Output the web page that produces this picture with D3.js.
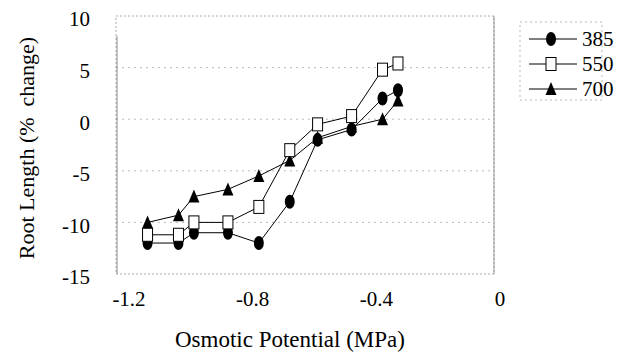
<!DOCTYPE html>
<html>
<head>
<meta charset="utf-8">
<script src="https://cdn.jsdelivr.net/npm/d3@7"></script>
<style>
  body { margin: 0; background: #fff; }
  svg text { font-family: "Liberation Serif", "Times New Roman", Tinos, "DejaVu Serif", serif; fill: #000; }
</style>
</head>
<body>
<svg width="629" height="353"></svg>
<script>
// data
const potentials = [-1.14, -1.04, -0.99, -0.88, -0.78, -0.68, -0.59, -0.48, -0.38, -0.33];
const co2_385 = [-12, -12, -11, -11, -12, -8, -2, -1, 2, 2.8];
const co2_550 = [-11.2, -11.2, -10, -10, -8.5, -3, -0.5, 0.3, 4.8, 5.4];
const co2_700 = [-10, -9.3, -7.5, -6.8, -5.5, -4, -1.8, -0.7, 0, 1.8];
const xTicks = [-1.2, -0.8, -0.4, 0];
const yTicks = [10, 5, 0, -5, -10, -15];
const seriesNames = ['385', '550', '700'];

const svg = d3.select("svg");

// frame of the plot area
const frame = { left: 116, right: 494, top: 16, bottom: 274 };

const xScale = d3.scaleLinear().domain([-1.2, 0]).range([129, 500]);
const yScale = d3.scaleLinear().domain([-15, 10]).range([frame.bottom, frame.top]);

// gridlines
svg.append('g')
  .selectAll('line')
  .data(yTicks.filter(v => v > -15 && v < 10))
  .join('line')
    .attr('x1', frame.left)
    .attr('x2', frame.right)
    .attr('y1', d => yScale(d))
    .attr('y2', d => yScale(d))
    .attr('stroke', '#bbb')
    .attr('stroke-dasharray', '2,4');

// frame
svg.append('rect')
  .attr('x', frame.left)
  .attr('y', frame.top)
  .attr('width', frame.right - frame.left)
  .attr('height', frame.bottom - frame.top)
  .attr('fill', 'none')
  .attr('stroke', '#aaa')
  .attr('stroke-dasharray', '2,2');

svg.append('line')
  .attr('x1', frame.left + 1).attr('x2', frame.left + 1)
  .attr('y1', frame.top + 20).attr('y2', frame.bottom)
  .attr('stroke', '#888');

svg.append('line')
  .attr('x1', frame.right).attr('x2', frame.right)
  .attr('y1', frame.top).attr('y2', frame.bottom)
  .attr('stroke', '#999');

// y tick labels
svg.append('g')
  .selectAll('text')
  .data(yTicks)
  .join('text')
    .attr('x', 90)
    .attr('y', d => yScale(d) + 3)
    .attr('dy', '0.35em')
    .attr('text-anchor', 'end')
    .attr('font-size', 21)
    .text(d => d);

// x tick labels
svg.append('g')
  .selectAll('text')
  .data(xTicks)
  .join('text')
    .attr('x', d => xScale(d))
    .attr('y', 306)
    .attr('text-anchor', 'middle')
    .attr('font-size', 21)
    .text(d => d === 0 ? '0' : d3.format('.1f')(d).replace('\u2212', '-'));

// axis titles
svg.append('text')
  .attr('x', 290)
  .attr('y', 347)
  .attr('text-anchor', 'middle')
  .attr('font-size', 23)
  .text('Osmotic Potential (MPa)');

svg.append('text')
  .attr('transform', `translate(34, 148) rotate(-90)`)
  .attr('text-anchor', 'middle')
  .attr('font-size', 22)
  .style('white-space', 'pre')
  .text('Root Length (%  change)');

// markers
const drawMarker = (sel, kind) => {
  if (kind === '385') {
    sel.append('ellipse')
      .attr('rx', 5).attr('ry', 7)
      .attr('fill', '#000');
  } else if (kind === '550') {
    sel.append('rect')
      .attr('x', -5).attr('y', -6.5)
      .attr('width', 10).attr('height', 13)
      .attr('fill', '#fff')
      .attr('stroke', '#000')
      .attr('stroke-width', 1);
  } else {
    sel.append('path')
      .attr('d', 'M0,-7L5.5,6L-5.5,6Z')
      .attr('fill', '#000');
  }
};

const series = [
  { name: '700', values: co2_700 },
  { name: '385', values: co2_385 },
  { name: '550', values: co2_550 }
];

const line = d3.line()
  .x((d, i) => xScale(potentials[i]))
  .y(d => yScale(d));

series.forEach(s => {
  svg.append('path')
    .attr('d', line(s.values))
    .attr('fill', 'none')
    .attr('stroke', '#000')
    .attr('stroke-width', 1);
});

series.forEach(s => {
  const g = svg.append('g')
    .selectAll('g')
    .data(s.values)
    .join('g')
      .attr('transform', (d, i) => `translate(${xScale(potentials[i])}, ${yScale(d)})`);
  drawMarker(g, s.name);
});

// legend
const legend = svg.append('g');
legend.append('rect')
  .attr('x', 520).attr('y', 22)
  .attr('width', 82).attr('height', 78)
  .attr('fill', 'none')
  .attr('stroke', '#bbb')
  .attr('stroke-dasharray', '2,3');

const legendY = d3.scalePoint().domain(seriesNames).range([39, 89]);

seriesNames.forEach(name => {
  const y = legendY(name);
  legend.append('line')
    .attr('x1', 529).attr('x2', 577)
    .attr('y1', y).attr('y2', y)
    .attr('stroke', '#000');
  drawMarker(legend.append('g').attr('transform', `translate(551, ${y})`), name);
  legend.append('text')
    .attr('x', 582)
    .attr('y', y)
    .attr('dy', '0.35em')
    .attr('font-size', 21)
    .text(name);
});
</script>
</body>
</html>
